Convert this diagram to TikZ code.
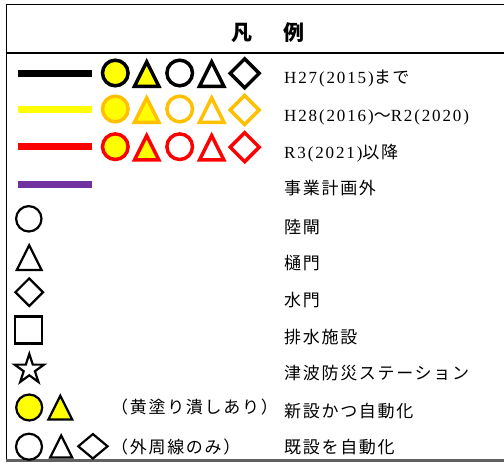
\documentclass[tikz,border=0pt]{standalone}
\usepackage{fontspec}
\usetikzlibrary{shapes.geometric}
\newfontfamily\cj[LetterSpace=10]{Noto Sans CJK JP}
\newfontfamily\cjt{Noto Sans CJK JP}
\newfontfamily\lat[LetterSpace=11]{Liberation Serif}
\definecolor{yel}{HTML}{FFFF00}
\definecolor{org}{HTML}{FFC000}
\definecolor{rd}{HTML}{FF0000}
\definecolor{pur}{HTML}{7030A0}
\tikzset{
 symcirc/.pic={\path[pic actions] (0,0) circle[radius=#1pt];},
 symtri/.pic={\path[pic actions] (-#1,#1) -- (#1,#1) -- (0,-#1) -- cycle;},
 symdia/.pic={\path[pic actions] (-#1,0) -- (0,-#1) -- (#1,0) -- (0,#1) -- cycle;},
 symsq/.pic={\path[pic actions] (-#1,-#1) rectangle (#1,#1);},
 lbl/.style={anchor=base west, inner sep=0pt, font=\fontsize{17}{17}\cj},
 ttl/.style={anchor=center, inner sep=0pt, font=\fontsize{21}{21}\cjt\bfseries},
 big/.style={line width=3.5pt, line join=miter},
 thinsym/.style={line width=2.2pt, line join=miter},
 bar/.style={line width=7pt},
}
\begin{document}
\begin{tikzpicture}[x=1pt,y=-1pt]
\useasboundingbox (0,0) rectangle (504,462);
\fill[white] (0,0) rectangle (504,462);
% frame
\draw[line width=1.4pt] (6.7,460) -- (6.7,4.5) -- (504,4.5);
\draw[line width=2pt] (6.7,53.3) -- (504,53.3);
\draw[line width=2.4pt, black!62] (5.5,460.7) -- (504,460.7);
% title
\node[ttl] (ttla) at (241.5,32.5) {凡};
\node[ttl] (ttlb) at (294,32.5) {例};
% bars
\draw[bar,black] (18,73.3) -- (92,73.3);
\draw[bar,yel] (18,109.7) -- (92,109.7);
\draw[bar,rd] (18,146.7) -- (92,146.7);
\draw[bar,pur] (18,184.3) -- (92,184.3);
% row 1
\pic[big,draw=black,fill=yel] (r1a) at (115.3,73) {symcirc=12.8};
\pic[big,draw=black,fill=yel] (r1b) at (146.7,74.1) {symtri=12.2};
\pic[big,draw=black,fill=white] (r1c) at (179.7,73) {symcirc=12.8};
\pic[big,draw=black,fill=white] (r1d) at (211.7,74.1) {symtri=12.2};
\pic[big,draw=black,fill=white] (r1e) at (244.7,73.3) {symdia=14.5};
% row 2
\pic[big,draw=org,fill=yel] (r2a) at (115.3,109) {symcirc=12.8};
\pic[big,draw=org,fill=yel] (r2b) at (146.7,110.1) {symtri=12.2};
\pic[big,draw=org,fill=white] (r2c) at (179.7,109) {symcirc=12.8};
\pic[big,draw=org,fill=white] (r2d) at (211.7,110.1) {symtri=12.2};
\pic[big,draw=org,fill=white] (r2e) at (244.7,110) {symdia=14.5};
% row 3
\pic[big,draw=rd,fill=yel] (r3a) at (115.3,146.7) {symcirc=12.8};
\pic[big,draw=rd,fill=yel] (r3b) at (146.7,147.8) {symtri=12.2};
\pic[big,draw=rd,fill=white] (r3c) at (179.7,146.7) {symcirc=12.8};
\pic[big,draw=rd,fill=white] (r3d) at (211.7,147.8) {symtri=12.2};
\pic[big,draw=rd,fill=white] (r3e) at (244.7,147.2) {symdia=14.5};
% single symbols
\pic[thinsym,draw=black,fill=white] (s1) at (28.8,218.8) {symcirc=12.7};
\pic[thinsym,draw=black,fill=white] (s2) at (29.2,257.7) {symtri=12.4};
\pic[thinsym,draw=black,fill=white] (s3) at (29.2,292.2) {symdia=13.8};
\pic[thinsym,draw=black,fill=white] (s4) at (28.7,330) {symsq=13.5};
\node[star, star points=5, star point ratio=2.618, minimum size=31pt, inner sep=0pt,
      draw=black, line width=2.2pt, line join=miter, fill=white] (s5) at (29.3,369.4) {};
\pic[thinsym,draw=black,fill=yel] (s6) at (29.2,407.5) {symcirc=13};
\pic[thinsym,draw=black,fill=yel] (s7) at (60.3,407.7) {symtri=11.9};
\pic[thinsym,draw=black,fill=white] (s8) at (29,446.7) {symcirc=13};
\pic[thinsym,draw=black,fill=white] (s9) at (61.2,446.5) {symtri=11};
\pic[thinsym,draw=black,fill=white,xscale=1.2] (s10) at (92.9,446.3) {symdia=12.2};
% labels
\node[lbl] (t1) at (284,83.2) {{\lat H27(2015)}まで};
\node[lbl] (t2) at (284,121.5) {{\lat H28(2016)}～{\lat R2(2020)}};
\node[lbl] (t3) at (284,158.2) {{\lat R3(2021)}以降};
\node[lbl] (t4) at (284,194.5) {事業計画外};
\node[lbl] (t5) at (284,233.2) {陸閘};
\node[lbl] (t6) at (284,269.5) {樋門};
\node[lbl] (t7) at (284,306.5) {水門};
\node[lbl] (t8) at (284,343.2) {排水施設};
\node[lbl] (t9) at (284,379.8) {津波防災ステーション};
\node[lbl] (t10) at (284,417.2) {新設かつ自動化};
\node[lbl] (t11) at (284,453.5) {既設を自動化};
\node[lbl] (p1) at (111,413.2) {（黄塗り潰しあり）};
\node[lbl] (p2) at (111,453.2) {（外周線のみ）};
\end{tikzpicture}
\end{document}
